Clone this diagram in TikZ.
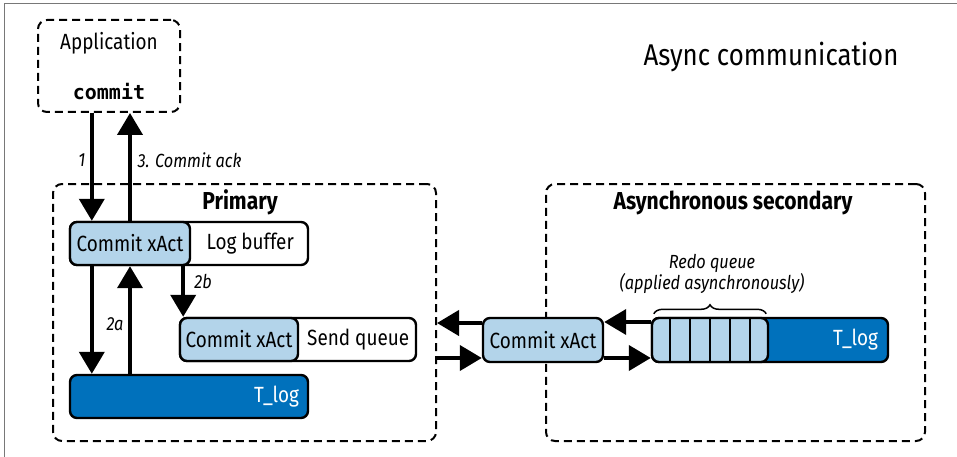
\documentclass[tikz,border=0pt]{standalone}
\usepackage{fontspec}
\setmainfont{Fira Sans}[FakeStretch=0.86]
\setmonofont{DejaVu Sans Mono}
\usepackage{tikz}
\usetikzlibrary{arrows.meta, positioning, calc, decorations.pathreplacing}
\definecolor{AsyLight}{RGB}{179, 212, 234}
\definecolor{AsyDark}{RGB}{0, 113, 188}
\definecolor{AsyFrame}{RGB}{120, 120, 120}

\begin{document}
\begin{tikzpicture}[x=1pt,y=-1pt,
  zone/.style={draw, line width=2pt, dash pattern=on 8pt off 5pt, rounded corners=9pt, inner sep=0pt},
  cell/.style={draw, line width=2.4pt, rounded corners=7pt, inner sep=0pt, minimum height=43pt, font=\fontsize{22}{24}\selectfont},
  body/.style={font=\fontsize{22}{24}\selectfont},
  head/.style={font=\fontsize{24.5}{26}\selectfont\bfseries},
  flow/.style={line width=4pt, -{Triangle[length=22pt,width=25pt]}},
  tag/.style={font=\fontsize{19}{21}\selectfont\itshape}]
  \path[use as bounding box] (0,0) rectangle (957,457);
  \draw[AsyFrame, line width=1pt] (4,457) -- (4,4) -- (957,4);

  % application and title
  \node[zone, minimum width=142pt, minimum height=92pt] (app) at (109,66) {};
  \node[body] (apptxt) at (109,43) {Application};
  \node[font=\ttfamily\bfseries\fontsize{20}{22}\selectfont] (appcmd) at (109,92) {commit};
  \node[font=\fontsize{30}{32}\selectfont] (title) at (771,57) {Async communication};

  % zones
  \node[zone, minimum width=383pt, minimum height=257pt] (prim) at (244.5,312.5) {};
  \node[head] (primtxt) at (240,202) {Primary};
  \node[zone, minimum width=379pt, minimum height=257pt] (sec) at (735.5,312.5) {};
  \node[head] (sectxt) at (733,203) {Asynchronous secondary};

  % primary contents
  \node[cell, fill=white, minimum width=238pt] (logbuf) at (189,243.5) {};
  \node[cell, fill=AsyLight, minimum width=120pt] (cxa) at (130,243.5) {Commit xAct};
  \node[body] (logtxt) at ($(cxa.east)!0.5!(logbuf.east)$) {Log buffer};
  \node[cell, fill=white, minimum width=236pt] (sendq) at (298,339.5) {};
  \node[cell, fill=AsyLight, minimum width=118pt] (cxb) at (239,339.5) {Commit xAct};
  \node[body] (sendtxt) at ($(cxb.east)!0.5!(sendq.east)$) {Send queue};
  \node[cell, fill=AsyDark, minimum width=238pt] (tlog) at (189,396.5) {};
  \node[body, text=white, anchor=east, inner sep=0pt] (tlogtxt) at ($(tlog.east)+(-10,0)$) {T\_log};

  % secondary contents
  \node[cell, fill=AsyLight, minimum width=120pt, minimum height=44pt] (cxc) at (543,340) {Commit xAct};
  \node[cell, fill=AsyDark, minimum width=236pt, minimum height=44pt] (redo) at (770,340) {};
  \node[cell, fill=AsyLight, minimum width=116pt, minimum height=44pt] (slots) at (710,340) {};
  \foreach \k in {1,...,5}{
    \draw[line width=1.6pt] ($(slots.north west)+(\k*20-1,0)$) -- ($(slots.south west)+(\k*20-1,0)$);
  }
  \node[body, text=white, anchor=east, inner sep=0pt] (redotxt) at ($(redo.east)+(-11,0)$) {T\_log};
  \draw[decorate, decoration={brace, amplitude=9pt}, line width=1.5pt]
    ($(slots.north west)+(3,-3)$) -- ($(slots.north east)+(-3,-3)$);
  \node[tag, align=center] (redolbl) at (712,274) {Redo queue\\(applied asynchronously)};

  % arrows
  \coordinate (x1) at ($(cxa.north west)+(23,0)$);
  \draw[flow] (app.south -| x1) -- (x1);
  \draw[flow] (cxa.north) -- (cxa.north |- app.south);
  \node[tag, anchor=east] (lbl1) at (89,160) {1};
  \node[tag, anchor=west] (lbl3) at (134,160) {3. Commit ack};

  \coordinate (x2b) at ($(cxa.south east)+(-8,0)$);
  \draw[flow] (x2b) -- (x2b |- cxb.north);
  \node[tag] (lbl2b) at (203,281) {2b};
  \draw[flow] (cxa.south -| x1) -- (tlog.north -| x1);
  \draw[flow] (tlog.north -| cxa.south) -- (cxa.south);
  \node[tag] (lbl2a) at (115,324) {2a};

  \coordinate (midtop) at ($(cxc.west)+(0,-17)$);
  \coordinate (midbot) at ($(cxc.west)+(0,18)$);
  \draw[flow] (midtop) -- (midtop -| prim.east);
  \draw[flow] (midbot -| prim.east) -- (midbot);
  \coordinate (rtop) at ($(slots.west)+(0,-18)$);
  \coordinate (rbot) at ($(cxc.east)+(0,18)$);
  \draw[flow] (rtop) -- (rtop -| cxc.east);
  \draw[flow] (rbot) -- (rbot -| slots.west);
\end{tikzpicture}
\end{document}
